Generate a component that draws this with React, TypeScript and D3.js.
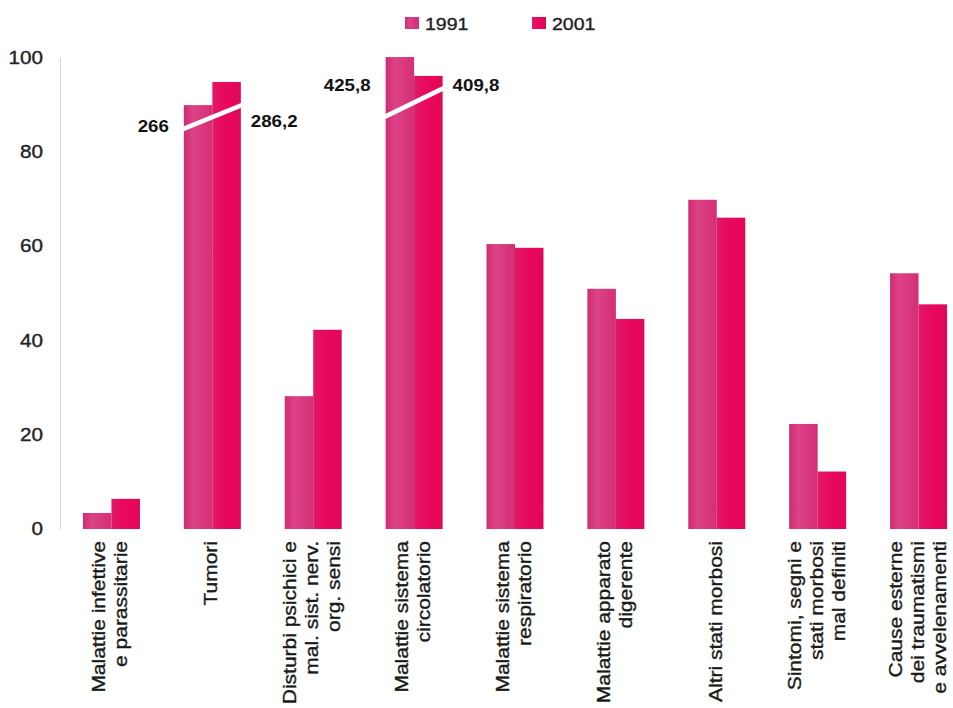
import { useEffect, useRef } from "react";
import * as d3 from "d3";

const categories = [
  "infettive",
  "tumori",
  "disturbi",
  "circolatorio",
  "respiratorio",
  "digerente",
  "altri",
  "sintomi",
  "cause",
];

const categoryLabels = [
  ["Malattie infettive", "e parassitarie"],
  ["Tumori"],
  ["Disturbi psichici e", "mal. sist. nerv.", "org. sensi"],
  ["Malattie sistema", "circolatorio"],
  ["Malattie sistema", "respiratorio"],
  ["Malattie apparato", "digerente"],
  ["Altri stati morbosi"],
  ["Sintomi, segni e", "stati morbosi", "mal definiti"],
  ["Cause esterne", "dei traumatismi", "e avvelenamenti"],
];

const seriesNames = ["1991", "2001"];

// bar heights as drawn (Tumori and circolatorio are cut, real values in breaks)
const values1991 = [3.4, 90, 28.2, 100.2, 60.5, 51, 69.9, 22.3, 54.3];
const values2001 = [6.4, 94.9, 42.3, 96.2, 59.7, 44.6, 66.1, 12.2, 47.7];

const yTicks = [0, 20, 40, 60, 80, 100];

// broken bars: real values written next to them
const breaks = [
  { cat: "tumori", from: 84.9, to: 90, left: "266", right: "286,2", leftAt: 85.5, rightAt: 86.6 },
  { cat: "circolatorio", from: 87.5, to: 93.6, left: "425,8", right: "409,8", leftAt: 94.2, rightAt: 94.2 },
];

const width = 953;
const height = 708;
const font = "Liberation Sans, Arial, sans-serif";

const App = () => {
  const svgRef = useRef<SVGSVGElement>(null);

  useEffect(() => {
    if (!svgRef.current) return;
    const svg = d3.select(svgRef.current);
    svg.selectAll("*").remove();

    const x = d3
      .scaleBand<string>()
      .domain(categories)
      .range([61, 969])
      .paddingInner(0.435)
      .paddingOuter(0.2175);
    const xs = d3.scaleBand<string>().domain(seriesNames).range([0, x.bandwidth()]);
    const y = d3.scaleLinear().domain([0, 100]).range([529, 58]);

    // gradients
    const defs = svg.append("defs");
    const grads = [
      { id: "g1991", stops: ["#cf2c72", "#dc4386", "#d9387d", "#d32f76"] },
      { id: "g2001", stops: ["#e01a66", "#e60c5f", "#e8065b", "#de0858"] },
    ];
    grads.forEach((g) => {
      const lg = defs.append("linearGradient").attr("id", g.id).attr("x1", "0").attr("x2", "1");
      g.stops.forEach((c, i) =>
        lg
          .append("stop")
          .attr("offset", `${(i / (g.stops.length - 1)) * 100}%`)
          .attr("stop-color", c),
      );
    });

    svg.append("rect").attr("width", width).attr("height", height).attr("fill", "#ffffff");

    // y axis line
    svg
      .append("line")
      .attr("x1", 60.5)
      .attr("x2", 60.5)
      .attr("y1", y(100))
      .attr("y2", y(0))
      .attr("stroke", "#d4d4d4")
      .attr("stroke-width", 1);

    // y tick labels
    svg
      .append("g")
      .selectAll("text")
      .data(yTicks)
      .enter()
      .append("text")
      .attr("transform", (d) => `translate(43, ${y(d) + 6}) scale(1.15, 1)`)
      .attr("text-anchor", "end")
      .attr("font-family", font)
      .attr("font-size", 18)
      .attr("fill", "#222")
      .attr("stroke", "#222")
      .attr("stroke-width", 0.35)
      .text((d) => d);

    // bars
    const rows = categories.map((c, i) => ({ c, v: [values1991[i], values2001[i]] }));
    const groups = svg
      .append("g")
      .selectAll("g")
      .data(rows)
      .enter()
      .append("g")
      .attr("transform", (d) => `translate(${x(d.c)}, 0)`);
    groups
      .selectAll("rect")
      .data((d) => d.v.map((v, k) => ({ s: seriesNames[k], v })))
      .enter()
      .append("rect")
      .attr("x", (d) => xs(d.s)!)
      .attr("width", xs.bandwidth())
      .attr("y", (d) => y(d.v))
      .attr("height", (d) => y(0) - y(d.v))
      .attr("fill", (d) => `url(#g${d.s})`);

    // breaks
    breaks.forEach((b) => {
      const x0 = x(b.cat)!;
      const x1 = x0 + x.bandwidth();
      svg
        .append("line")
        .attr("x1", x0 - 1)
        .attr("x2", x1 + 1)
        .attr("y1", y(b.from))
        .attr("y2", y(b.to))
        .attr("stroke", "#ffffff")
        .attr("stroke-width", 4.5);
      svg
        .append("text")
        .attr("transform", `translate(${x0 - 15}, ${y(b.leftAt) + 6}) scale(1.1, 1)`)
        .attr("text-anchor", "end")
        .attr("font-family", font)
        .attr("font-weight", "bold")
        .attr("font-size", 17)
        .attr("fill", "#111")
        .text(b.left);
      svg
        .append("text")
        .attr("transform", `translate(${x1 + 10}, ${y(b.rightAt) + 6}) scale(1.1, 1)`)
        .attr("text-anchor", "start")
        .attr("font-family", font)
        .attr("font-weight", "bold")
        .attr("font-size", 17)
        .attr("fill", "#111")
        .text(b.right);
    });

    // category labels (rotated)
    categories.forEach((c, i) => {
      const lines = categoryLabels[i];
      const cx = x(c)! + x.bandwidth() / 2;
      lines.forEach((line, j) => {
        const bx = cx + (j - (lines.length - 1) / 2) * 22 + 5;
        svg
          .append("text")
          .attr("transform", `translate(${bx}, 541) rotate(-90) scale(1.2, 1)`)
          .attr("text-anchor", "end")
          .attr("font-family", font)
          .attr("font-size", 17.5)
          .attr("fill", "#1a1a1a")
          .attr("stroke", "#1a1a1a")
          .attr("stroke-width", 0.35)
          .text(line);
      });
    });

    // legend
    const legendX = [405, 532];
    seriesNames.forEach((s, i) => {
      const g = svg.append("g").attr("transform", `translate(${legendX[i]}, 17)`);
      g.append("rect").attr("width", 14).attr("height", 12).attr("fill", `url(#g${s})`);
      g.append("text")
        .attr("transform", "translate(20, 13) scale(1.15, 1)")
        .attr("font-family", font)
        .attr("font-size", 17)
        .attr("fill", "#222")
        .attr("stroke", "#222")
        .attr("stroke-width", 0.35)
        .text(s);
    });
  }, []);

  return (
    <div style={{ position: "absolute", left: 0, top: 0, background: "#fff" }}>
      <svg ref={svgRef} width={width} height={height}></svg>
    </div>
  );
};

export default App;
